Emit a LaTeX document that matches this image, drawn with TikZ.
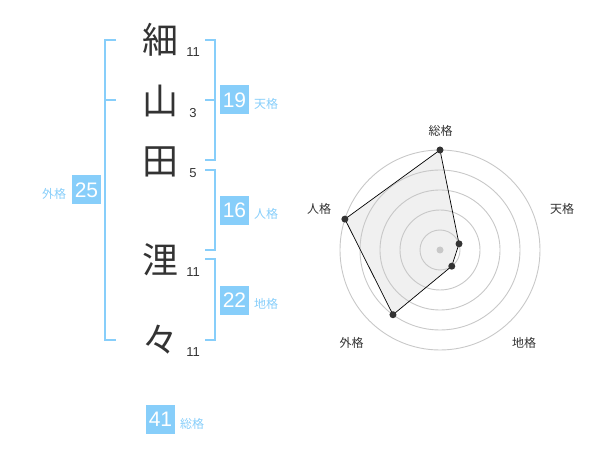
\documentclass[tikz,border=0pt]{standalone}
\usepackage{fontspec}
\setmainfont{Liberation Sans}
\newfontfamily\cjk{Noto Sans CJK JP}
\definecolor{sky}{HTML}{87CEFA}
\definecolor{ink}{HTML}{333333}
\definecolor{ringc}{HTML}{C8C8C8}
\definecolor{polyc}{HTML}{F0F0F0}
\begin{document}
\begin{tikzpicture}[x=1pt,y=-1pt,
  kanji/.style={font=\cjk\fontsize{36}{36}\selectfont, text=ink, anchor=base, inner sep=0pt},
  strokes/.style={font=\fontsize{13}{13}\selectfont, text=ink, anchor=base, inner sep=0pt},
  brk/.style={draw=sky, line width=2pt},
  numbox/.style={fill=sky, text=white, minimum size=29pt, inner sep=0pt, font=\fontsize{21}{21}\selectfont},
  kaku/.style={text=sky, font=\cjk\fontsize{12}{12}\selectfont, inner sep=0pt},
  axlabel/.style={text=ink, font=\cjk\fontsize{12}{12}\selectfont, inner sep=0pt},
  ring/.style={draw=ringc, line width=0.9pt},
  dot/.style={circle, fill=ink, minimum size=7pt, inner sep=0pt},
  cdot/.style={circle, fill=ringc, minimum size=7pt, inner sep=0pt}
]
\useasboundingbox (0,0) rectangle (600,470);

% name characters
\node[kanji] (k1) at (160,54) {細};
\node[kanji] (k2) at (160,115) {山};
\node[kanji] (k3) at (160,175) {田};
\node[kanji] (k4) at (160,274) {浬};
\node[kanji] (k5) at (160,354) {々};

% stroke counts
\node[strokes] (s1) at (193,57) {11};
\node[strokes] (s2) at (193,118) {3};
\node[strokes] (s3) at (193,178) {5};
\node[strokes] (s4) at (193,277) {11};
\node[strokes] (s5) at (193,357) {11};

% brackets
\draw[brk] (116,40) -- (105,40) -- (105,340) -- (116,340);
\draw[brk] (105,100) -- (116,100);
\draw[brk] (205,40) -- (215,40) -- (215,160) -- (205,160);
\draw[brk] (215,100) -- (205,100);
\draw[brk] (205,170) -- (215,170) -- (215,250) -- (205,250);
\draw[brk] (205,259) -- (215,259) -- (215,340) -- (205,340);

% boxes and labels
\node[numbox] (b19) at (234.5,100) {19};
\node[kaku] (l19) at (266,104) {天格};
\node[numbox] (b16) at (234.5,210.5) {16};
\node[kaku] (l16) at (266,214) {人格};
\node[numbox] (b22) at (234.5,300.5) {22};
\node[kaku] (l22) at (266,304) {地格};
\node[numbox] (b25) at (86.5,190) {25};
\node[kaku] (l25) at (54,193.5) {外格};
\node[numbox] (b41) at (160.5,419.5) {41};
\node[kaku] (l41) at (192,423.5) {総格};

% radar chart
\coordinate (C) at (440,250);
\coordinate (P1) at (440,150);
\coordinate (P2) at (459.02,243.82);
\coordinate (P3) at (451.76,266.18);
\coordinate (P4) at (392.98,314.72);
\coordinate (P5) at (344.89,219.10);
\fill[polyc] (P1) -- (P2) -- (P3) -- (P4) -- (P5) -- cycle;
\foreach \r in {20,40,60,80,100} {\draw[ring] (C) circle[radius=\r pt];}
\node[cdot] (c0) at (C) {};
\draw[black, line width=0.7pt] (P1) -- (P2) -- (P3) -- (P4) -- (P5) -- cycle;
\node[dot] (d1) at (P1) {};
\node[dot] (d2) at (P2) {};
\node[dot] (d3) at (P3) {};
\node[dot] (d4) at (P4) {};
\node[dot] (d5) at (P5) {};

\node[axlabel] (a1) at (440.5,130.5) {総格};
\node[axlabel] (a2) at (562,208.5) {天格};
\node[axlabel] (a3) at (524,342.5) {地格};
\node[axlabel] (a4) at (351.5,342.5) {外格};
\node[axlabel] (a5) at (319,209) {人格};
\end{tikzpicture}
\end{document}
